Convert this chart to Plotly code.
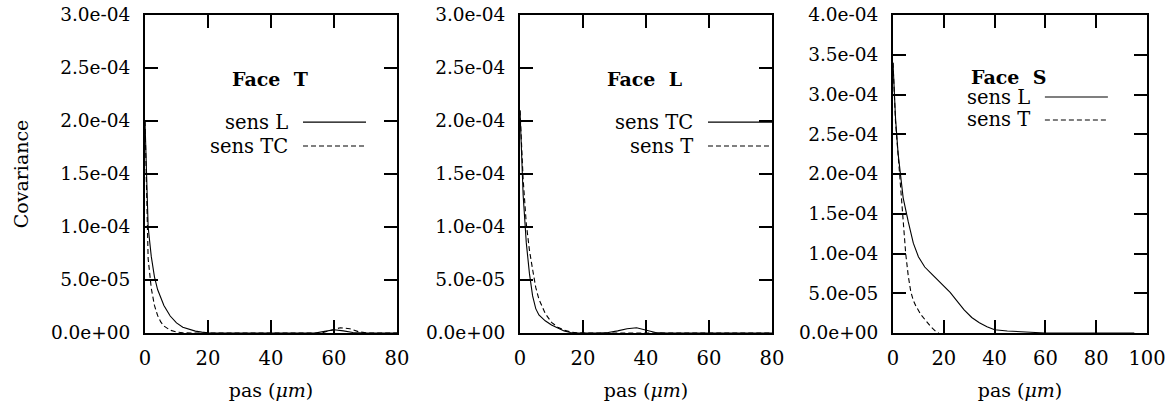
import plotly.graph_objects as go

# ---------------- data ----------------
# Face T
t_L_x = [0, 1, 2, 3, 4, 5, 6, 8, 10, 12, 14, 16, 18, 20, 25, 40, 54, 57, 60, 63, 66, 70, 80]
t_L_y = [2.0e-4, 1.0e-4, 7.2e-5, 5.3e-5, 4.1e-5, 3.3e-5, 2.6e-5, 1.6e-5, 9.5e-6, 5.5e-6, 3.3e-6,
         1.8e-6, 8e-7, 3e-7, 0, 0, 0, 1.5e-6, 3e-6, 2e-6, 5e-7, 0, 0]
t_TC_x = [0, 1, 2, 3, 4, 5, 6, 8, 10, 12, 15, 40, 56, 59, 62, 65, 68, 71, 80]
t_TC_y = [2.0e-4, 7.0e-5, 4.2e-5, 2.6e-5, 1.65e-5, 1.05e-5, 6.6e-6, 2.6e-6, 1e-6, 3e-7, 0, 0,
          0, 2.5e-6, 5e-6, 4e-6, 1e-6, 0, 0]

# Face L
l_TC_x = [0, 1, 2, 3, 4, 5, 6, 7, 8, 10, 12, 14, 16, 18, 25, 28, 31, 34, 37, 40, 43, 46, 60, 80]
l_TC_y = [2.1e-4, 1.3e-4, 8.5e-5, 5.6e-5, 3.5e-5, 2.3e-5, 1.7e-5, 1.4e-5, 1.15e-5, 7.5e-6, 4.5e-6,
          2e-6, 5e-7, 0, 0, 5e-7, 2e-6, 4e-6, 5e-6, 3e-6, 5e-7, 0, 0, 0]
l_T_x = [0, 1, 2, 3, 4, 5, 6, 8, 10, 12, 14, 16, 18, 20, 80]
l_T_y = [2.1e-4, 1.45e-4, 1.03e-4, 7.8e-5, 6.0e-5, 4.3e-5, 3.2e-5, 1.85e-5, 1.0e-5, 5.5e-6,
         2.7e-6, 1e-6, 2e-7, 0, 0]

# Face S
s_L_x = [0, 1, 2, 3, 4, 6, 8, 10, 12.5, 15, 17.5, 20, 22.5, 25, 28, 31, 34, 37, 40, 45, 50, 55, 60, 95]
s_L_y = [3.4e-4, 2.7e-4, 2.26e-4, 1.95e-4, 1.7e-4, 1.4e-4, 1.13e-4, 9.6e-5, 8.3e-5, 7.5e-5,
         6.7e-5, 5.9e-5, 5.1e-5, 4.1e-5, 2.9e-5, 1.95e-5, 1.3e-5, 8e-6, 4e-6, 2.5e-6, 1.5e-6,
         5e-7, 0, 0]
s_T_x = [0, 1, 2, 3, 4, 5, 6, 7, 8, 9, 11, 13, 15, 17, 18]
s_T_y = [3.4e-4, 2.65e-4, 2.25e-4, 1.85e-4, 1.38e-4, 1.0e-4, 7.2e-5, 5.2e-5, 4.1e-5, 3.4e-5,
         2.3e-5, 1.45e-5, 7.5e-6, 1.5e-6, 0]

panel_titles = ["Face  T", "Face  L", "Face  S"]
legend_names = [["sens L", "sens TC"], ["sens TC", "sens T"], ["sens L", "sens T"]]

y_ticks_3 = [0, 5e-5, 1e-4, 1.5e-4, 2e-4, 2.5e-4, 3e-4]
y_text_3 = ["0.0e+00", "5.0e-05", "1.0e-04", "1.5e-04", "2.0e-04", "2.5e-04", "3.0e-04"]
y_ticks_4 = [0, 5e-5, 1e-4, 1.5e-4, 2e-4, 2.5e-4, 3e-4, 3.5e-4, 4e-4]
y_text_4 = ["0.0e+00", "5.0e-05", "1.0e-04", "1.5e-04", "2.0e-04", "2.5e-04", "3.0e-04",
            "3.5e-04", "4.0e-04"]
x_ticks_80 = [0, 20, 40, 60, 80]
x_ticks_100 = [0, 20, 40, 60, 80, 100]

x_label = "pas (<i>μm</i>)"
y_label = "Covariance"

# ---------------- figure ----------------
W, H = 1168, 410
FONT = "DejaVu Serif"
fig = go.Figure()

series = [
    (t_L_x, t_L_y, t_TC_x, t_TC_y),
    (l_TC_x, l_TC_y, l_T_x, l_T_y),
    (s_L_x, s_L_y, s_T_x, s_T_y),
]
for i, (xa, ya, xb, yb) in enumerate(series):
    ax = "" if i == 0 else str(i + 1)
    fig.add_trace(go.Scatter(x=xa, y=ya, mode="lines", name=legend_names[i][0],
                             line=dict(color="black", width=1.1),
                             xaxis="x" + ax, yaxis="y" + ax, showlegend=False))
    fig.add_trace(go.Scatter(x=xb, y=yb, mode="lines", name=legend_names[i][1],
                             line=dict(color="black", width=1.1, dash="5px,3px"),
                             xaxis="x" + ax, yaxis="y" + ax, showlegend=False))

px_x = [(145, 397), (520, 772), (893, 1147)]
y_dom = [(H - 333) / H, (H - 15) / H]

axis_common = dict(showline=True, linewidth=2, linecolor="black", mirror="allticks",
                   ticks="inside", ticklen=13, tickwidth=2, tickcolor="black",
                   showgrid=False, zeroline=False, automargin=False)

x_ranges = [[0, 80], [0, 80], [0, 100]]
x_ticks = [x_ticks_80, x_ticks_80, x_ticks_100]
y_ranges = [[0, 3e-4], [0, 3e-4], [0, 4e-4]]
y_ticks = [(y_ticks_3, y_text_3), (y_ticks_3, y_text_3), (y_ticks_4, y_text_4)]

for i in range(3):
    ax = "" if i == 0 else str(i + 1)
    fig.layout["xaxis" + ax] = dict(
        domain=[px_x[i][0] / W, px_x[i][1] / W], range=x_ranges[i],
        tickvals=x_ticks[i], ticklabelstandoff=7, anchor="y" + ax,
        tickfont=dict(family=FONT, size=19.5, color="black"),
        title=dict(text=x_label, font=dict(family=FONT, size=19, color="black"), standoff=14),
        **axis_common)
    fig.layout["yaxis" + ax] = dict(
        domain=y_dom, range=y_ranges[i], tickvals=y_ticks[i][0], ticktext=y_ticks[i][1],
        ticklabelstandoff=9, anchor="x" + ax,
        tickfont=dict(family=FONT, size=18.5, color="black"),
        title=dict(text=y_label if i == 0 else "", font=dict(family=FONT, size=19, color="black"),
                   standoff=17),
        **axis_common)

# panel titles and legend keys
title_pos = [(0.496, 0.80), (0.496, 0.80), (0.453, 0.805)]
leg_text_x = [0.575, 0.694, 0.547]
leg_line_x = [(0.627, 0.877), (0.746, 1.0), (0.598, 0.846)]
leg_y = [(0.663, 0.588), (0.663, 0.588), (0.742, 0.670)]

annotations = []
shapes = []
for i in range(3):
    ax = "" if i == 0 else str(i + 1)
    xr, yr = "x" + ax + " domain", "y" + ax + " domain"
    annotations.append(dict(text="<b>" + panel_titles[i] + "</b>", x=title_pos[i][0],
                            y=title_pos[i][1], xref=xr, yref=yr, showarrow=False,
                            xanchor="center", yanchor="middle",
                            font=dict(family=FONT, size=19, color="black")))
    for k, dash in enumerate(["solid", "5px,3px"]):
        annotations.append(dict(text=legend_names[i][k], x=leg_text_x[i], y=leg_y[i][k],
                                xref=xr, yref=yr, showarrow=False, xanchor="right",
                                yanchor="middle",
                                font=dict(family=FONT, size=19.5, color="black")))
        shapes.append(dict(type="line", xref=xr, yref=yr, x0=leg_line_x[i][0],
                           x1=leg_line_x[i][1], y0=leg_y[i][k], y1=leg_y[i][k],
                           line=dict(color="black", width=1.1, dash=dash)))

fig.update_layout(width=W, height=H, margin=dict(l=0, r=0, t=0, b=0),
                  paper_bgcolor="white", plot_bgcolor="white",
                  annotations=annotations, shapes=shapes, showlegend=False,
                  font=dict(family=FONT, color="black"))

fig.write_html("out.html", config={"displayModeBar": False},
               post_script="document.body.style.margin='0';document.body.style.overflow='hidden';")
